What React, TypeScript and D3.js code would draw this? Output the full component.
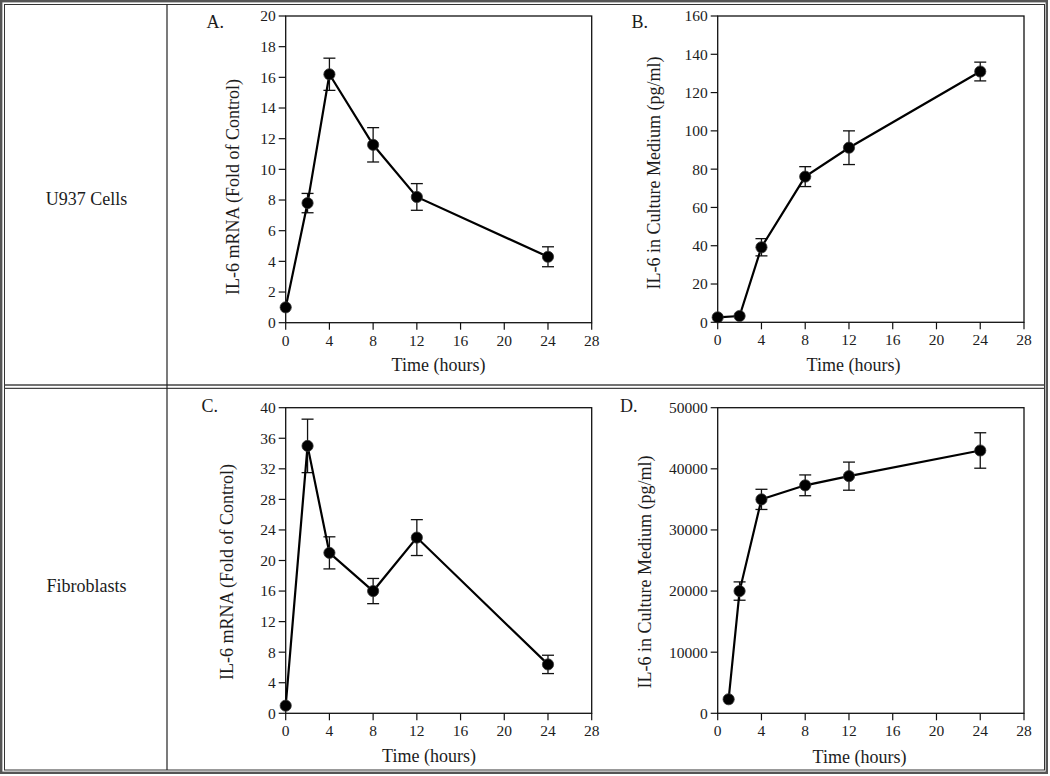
import React from "react";
import * as d3 from "d3";

// ---------- DATA ----------
const rowLabels = ["U937 Cells", "Fibroblasts"];
const panelLetters = ["A.", "B.", "C.", "D."];
const xTicks = [0, 4, 8, 12, 16, 20, 24, 28];
const xTitle = "Time (hours)";
const mrnaTitle = "IL-6 mRNA (Fold of Control)";
const proteinTitle = "IL-6 in Culture Medium (pg/ml)";

const hoursU937 = [0, 2, 4, 8, 12, 24];
const mrnaU937 = [1.0, 7.8, 16.2, 11.6, 8.2, 4.3];
const mrnaU937Err = [0, 0.63, 1.05, 1.12, 0.87, 0.65];
const proteinU937 = [2.6, 3.3, 39.2, 76.1, 91.2, 131.0];
const proteinU937Err = [0, 0, 4.5, 5.2, 8.8, 4.9];

const hoursFibroMrna = [0, 2, 4, 8, 12, 24];
const mrnaFibro = [1.0, 35.0, 21.0, 16.0, 23.0, 6.4];
const mrnaFibroErr = [0, 3.5, 2.1, 1.65, 2.35, 1.2];
const hoursFibroProtein = [1, 2, 4, 8, 12, 24];
const proteinFibro = [2300, 20000, 35000, 37300, 38800, 43000];
const proteinFibroErr = [0, 1500, 1650, 1700, 2300, 2900];

const yTicksA = [0, 2, 4, 6, 8, 10, 12, 14, 16, 18, 20];
const yTicksB = [0, 20, 40, 60, 80, 100, 120, 140, 160];
const yTicksC = [0, 4, 8, 12, 16, 20, 24, 28, 32, 36, 40];
const yTicksD = [0, 10000, 20000, 30000, 40000, 50000];

// ---------- LAYOUT ----------
const W = 1050;
const H = 776;
const FONT = "'Liberation Serif', 'Times New Roman', serif";
const INK = "#1c1c1c";

type PanelProps = {
  xs: number[];
  ys: number[];
  errs: number[];
  yTicks: number[];
  left: number;
  right: number;
  top: number;
  bottom: number;
  letter: string;
  letterX: number;
  letterY: number;
  yTitle: string;
  yTitleX: number;
  yTitleY: number;
  xTitleX: number;
  xTitleY: number;
};

function Panel(p: PanelProps) {
  const x = d3.scaleLinear().domain([0, 28]).range([p.left, p.right]);
  const yMax = p.yTicks[p.yTicks.length - 1];
  const y = d3.scaleLinear().domain([0, yMax]).range([p.bottom, p.top]);
  const pts = p.xs.map((xv, i) => ({ x: xv, y: p.ys[i], e: p.errs[i] }));
  const line = d3
    .line<{ x: number; y: number }>()
    .x((d) => x(d.x))
    .y((d) => y(d.y));
  const tickLen = 7;
  const cap = 6;
  return (
    <g>
      <text x={p.letterX} y={p.letterY} fontSize={18} fill={INK} fontFamily={FONT}>
        {p.letter}
      </text>
      {/* frame */}
      <rect
        x={p.left}
        y={p.top}
        width={p.right - p.left}
        height={p.bottom - p.top}
        fill="none"
        stroke="#111"
        strokeWidth={1.3}
      />
      {/* y ticks */}
      {p.yTicks.map((t) => (
        <g key={"y" + t}>
          <line x1={p.left - tickLen} x2={p.left} y1={y(t)} y2={y(t)} stroke="#111" strokeWidth={1.2} />
          <text
            x={p.left - 10}
            y={y(t)}
            dy="0.35em"
            textAnchor="end"
            fontSize={15.5}
            fill={INK}
            fontFamily={FONT}
          >
            {t}
          </text>
        </g>
      ))}
      {/* x ticks */}
      {xTicks.map((t) => (
        <g key={"x" + t}>
          <line x1={x(t)} x2={x(t)} y1={p.bottom} y2={p.bottom + tickLen} stroke="#111" strokeWidth={1.2} />
          <text
            x={x(t)}
            y={p.bottom + 23}
            textAnchor="middle"
            fontSize={15.5}
            fill={INK}
            fontFamily={FONT}
          >
            {t}
          </text>
        </g>
      ))}
      <text
        x={p.xTitleX}
        y={p.xTitleY}
        textAnchor="middle"
        fontSize={18}
        fill={INK}
        fontFamily={FONT}
      >
        {xTitle}
      </text>
      <text
        transform={`translate(${p.yTitleX},${p.yTitleY}) rotate(-90)`}
        textAnchor="middle"
        fontSize={18}
        fill={INK}
        fontFamily={FONT}
      >
        {p.yTitle}
      </text>
      {/* error bars */}
      {pts
        .filter((d) => d.e > 0)
        .map((d, i) => (
          <g key={"e" + i} stroke="#111" strokeWidth={1.3}>
            <line x1={x(d.x)} x2={x(d.x)} y1={y(d.y - d.e)} y2={y(d.y + d.e)} />
            <line x1={x(d.x) - cap} x2={x(d.x) + cap} y1={y(d.y + d.e)} y2={y(d.y + d.e)} />
            <line x1={x(d.x) - cap} x2={x(d.x) + cap} y1={y(d.y - d.e)} y2={y(d.y - d.e)} />
          </g>
        ))}
      <path d={line(pts) || ""} fill="none" stroke="#000" strokeWidth={2.2} />
      {pts.map((d, i) => (
        <circle key={"c" + i} cx={x(d.x)} cy={y(d.y)} r={5.6} fill="#000" stroke="#333" strokeWidth={0.8} />
      ))}
    </g>
  );
}

export default function App() {
  return (
    <svg
      width={W}
      height={H}
      style={{ position: "absolute", left: 0, top: 0, background: "#fff" }}
    >
      <rect x={0} y={0} width={W} height={H} fill="#fff" />
      {/* table borders */}
      <rect x={1.2} y={1.2} width={W - 4.4} height={H - 4.4} fill="none" stroke="#555" strokeWidth={2.4} />
      <rect x={4.5} y={4.5} width={W - 10} height={H - 10.5} fill="none" stroke="#333" strokeWidth={1} />
      <line x1={4.5} x2={W - 5.5} y1={385} y2={385} stroke="#444" strokeWidth={1.4} />
      <line x1={4.5} x2={W - 5.5} y1={388.3} y2={388.3} stroke="#444" strokeWidth={1.2} />
      <line x1={167} x2={167} y1={4.5} y2={H - 6} stroke="#222" strokeWidth={1.2} />
      {/* row labels */}
      <text x={86.5} y={204.5} textAnchor="middle" fontSize={18} fill={INK} fontFamily={FONT}>
        {rowLabels[0]}
      </text>
      <text x={86.5} y={592} textAnchor="middle" fontSize={18} fill={INK} fontFamily={FONT}>
        {rowLabels[1]}
      </text>
      <Panel
        xs={hoursU937}
        ys={mrnaU937}
        errs={mrnaU937Err}
        yTicks={yTicksA}
        left={285.7}
        right={591.7}
        top={16}
        bottom={322.7}
        letter={panelLetters[0]}
        letterX={206.5}
        letterY={28}
        yTitle={mrnaTitle}
        yTitleX={239}
        yTitleY={187}
        xTitleX={438.5}
        xTitleY={371}
      />
      <Panel
        xs={hoursU937}
        ys={proteinU937}
        errs={proteinU937Err}
        yTicks={yTicksB}
        left={717.7}
        right={1024}
        top={16}
        bottom={322.3}
        letter={panelLetters[1]}
        letterX={631.5}
        letterY={28}
        yTitle={proteinTitle}
        yTitleX={660}
        yTitleY={173}
        xTitleX={853.5}
        xTitleY={371}
      />
      <Panel
        xs={hoursFibroMrna}
        ys={mrnaFibro}
        errs={mrnaFibroErr}
        yTicks={yTicksC}
        left={285.7}
        right={591.7}
        top={407.7}
        bottom={713.3}
        letter={panelLetters[2]}
        letterX={201.5}
        letterY={412}
        yTitle={mrnaTitle}
        yTitleX={233}
        yTitleY={572}
        xTitleX={429}
        xTitleY={762}
      />
      <Panel
        xs={hoursFibroProtein}
        ys={proteinFibro}
        errs={proteinFibroErr}
        yTicks={yTicksD}
        left={717.7}
        right={1024}
        top={407.7}
        bottom={713.3}
        letter={panelLetters[3]}
        letterX={620}
        letterY={412}
        yTitle={proteinTitle}
        yTitleX={651}
        yTitleY={572}
        xTitleX={859.5}
        xTitleY={763}
      />
    </svg>
  );
}
